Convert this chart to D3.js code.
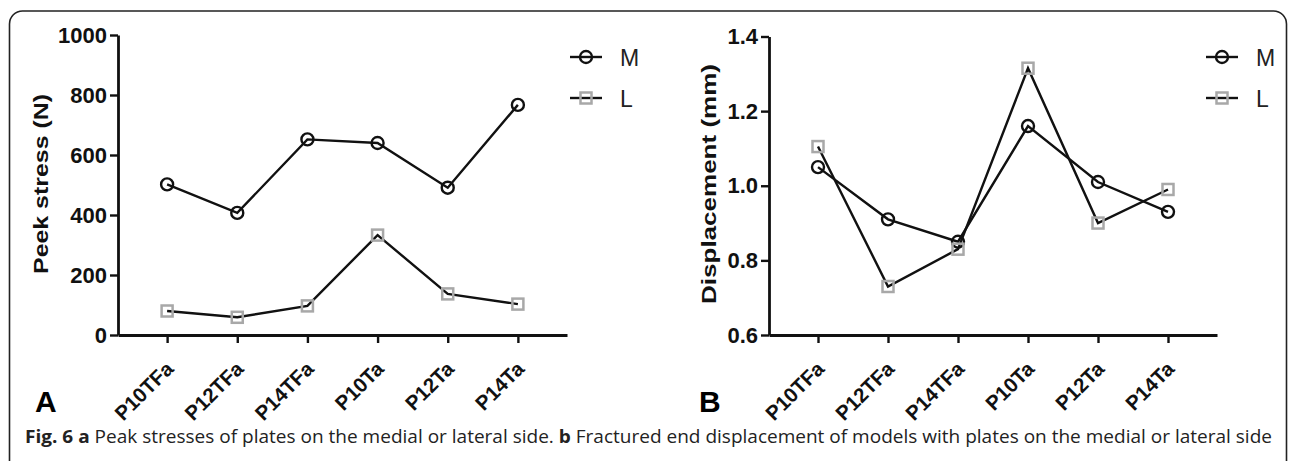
<!DOCTYPE html>
<html lang="en">
<head>
    <script src="https://d3js.org/d3.v7.min.js"></script>
    <style>
        body { margin: 0; background: white; }
        svg { display: block; }
        .axis path, .axis line { stroke: #111; }
    </style>
</head>
<body>
    <svg id="fig" width="1290" height="461"></svg>

    <script>
    // categories along the x axis (same for both panels)
    const categories = ["P10TFa", "P12TFa", "P14TFa", "P10Ta", "P12Ta", "P14Ta"];

    // panel A: peak stress (N)
    const stressM = [502, 407, 652, 640, 491, 767];
    const stressL = [80, 59, 97, 333, 137, 103];
    const stressTicks = [0, 200, 400, 600, 800, 1000];

    // panel B: displacement (mm)
    const dispM = [1.05, 0.91, 0.85, 1.16, 1.01, 0.93];
    const dispL = [1.105, 0.73, 0.83, 1.315, 0.90, 0.99];
    const dispTicks = [0.6, 0.8, 1.0, 1.2, 1.4];

    const seriesNames = ["M", "L"];
    const ARIAL = "'Liberation Sans', Arial, Helvetica, sans-serif";

    const svg = d3.select("#fig");

    // frame around the figure (bottom edge runs off the picture)
    svg.append("rect")
        .attr("x", 9.5).attr("y", 11)
        .attr("width", 1277).attr("height", 500)
        .attr("rx", 13).attr("ry", 13)
        .attr("fill", "none")
        .attr("stroke", "#222")
        .attr("stroke-width", 1.6);

    function drawMarker(g, name, x, y) {
        if (name === "M") {
            g.append("circle")
                .attr("cx", x).attr("cy", y).attr("r", 6)
                .attr("fill", "none")
                .attr("stroke", "#111")
                .attr("stroke-width", 2.4);
        } else {
            g.append("rect")
                .attr("x", x - 5.5).attr("y", y - 5.5)
                .attr("width", 11).attr("height", 11)
                .attr("fill", "none")
                .attr("stroke", "#a8a8a8")
                .attr("stroke-width", 2.5);
        }
    }

    function drawPanel(cfg) {
        const g = svg.append("g");

        const x = d3.scalePoint()
            .domain(categories)
            .range([cfg.left, cfg.right])
            .padding(0.7);
        const y = d3.scaleLinear()
            .domain(cfg.domain)
            .range([335, cfg.top]);

        // y axis
        const yAxis = g.append("g")
            .attr("class", "axis")
            .attr("transform", `translate(${cfg.left},0)`)
            .call(d3.axisLeft(y).tickValues(cfg.ticks).tickFormat(cfg.format).tickSize(8).tickPadding(3).tickSizeOuter(0))
            .attr("font-family", ARIAL)
            .attr("font-size", 22)
            .attr("font-weight", "bold");
        yAxis.select(".domain").attr("stroke-width", 2.8);
        yAxis.selectAll(".tick line").attr("stroke-width", 2.4);
        yAxis.selectAll(".tick text").attr("fill", "#111");

        // x axis
        const xAxis = g.append("g")
            .attr("class", "axis")
            .attr("transform", "translate(0,335)")
            .call(d3.axisBottom(x).tickSize(8).tickSizeOuter(0))
            .attr("font-family", ARIAL)
            .attr("font-size", 20.5)
            .attr("font-weight", "bold");
        xAxis.select(".domain").attr("stroke-width", 2.8);
        xAxis.selectAll(".tick line").attr("stroke-width", 2.4);
        xAxis.selectAll(".tick text")
            .attr("fill", "#111")
            .attr("text-anchor", "end")
            .attr("x", 0).attr("y", 0).attr("dy", "0.35em")
            .attr("transform", "translate(2,30) rotate(-45)");

        // axis title
        g.append("text")
            .attr("transform", `translate(${cfg.titleX},${cfg.titleY}) rotate(-90)`)
            .attr("text-anchor", "middle")
            .attr("textLength", cfg.titleLen)
            .attr("lengthAdjust", "spacingAndGlyphs")
            .attr("font-family", ARIAL)
            .attr("font-weight", "bold")
            .attr("font-size", 21)
            .attr("fill", "#111")
            .text(cfg.title);

        // panel letter
        g.append("text")
            .attr("x", cfg.letterX).attr("y", 412)
            .attr("font-family", ARIAL)
            .attr("font-weight", "bold")
            .attr("font-size", 30)
            .attr("fill", "#000")
            .text(cfg.letter);

        const line = d3.line()
            .x((d, i) => x(categories[i]))
            .y(d => y(d));

        [cfg.m, cfg.l].forEach(function(vals) {
            g.append("path")
                .datum(vals)
                .attr("d", line)
                .attr("fill", "none")
                .attr("stroke", "#111")
                .attr("stroke-width", 2.4);
        });
        [cfg.m, cfg.l].forEach(function(vals, k) {
            vals.forEach(function(v, i) {
                drawMarker(g, seriesNames[k], x(categories[i]), y(v));
            });
        });

        // legend
        seriesNames.forEach(function(name, k) {
            const ly = 57 + k * 41;
            g.append("line")
                .attr("x1", cfg.legendX - 16).attr("x2", cfg.legendX + 16)
                .attr("y1", ly).attr("y2", ly)
                .attr("stroke", "#111")
                .attr("stroke-width", 2.4);
            drawMarker(g, name, cfg.legendX, ly);
            g.append("text")
                .attr("x", cfg.legendX + 34).attr("y", ly + 8.5)
                .attr("font-family", ARIAL)
                .attr("font-size", 23)
                .attr("fill", "#222")
                .text(name);
        });
    }

    drawPanel({
        left: 118, right: 567, top: 35,
        domain: [0, 1000], ticks: stressTicks, format: d3.format("d"),
        m: stressM, l: stressL,
        title: "Peek stress (N)", titleX: 48, titleY: 184, titleLen: 180,
        letter: "A", letterX: 35,
        legendX: 586
    });

    drawPanel({
        left: 769, right: 1217, top: 36.5,
        domain: [0.6, 1.4], ticks: dispTicks, format: d3.format(".1f"),
        m: dispM, l: dispL,
        title: "Displacement (mm)", titleX: 716, titleY: 184, titleLen: 240,
        letter: "B", letterX: 699,
        legendX: 1222
    });

    // caption
    const caption = svg.append("text")
        .attr("x", 25).attr("y", 443)
        .attr("textLength", 1247)
        .attr("lengthAdjust", "spacingAndGlyphs")
        .attr("font-family", "'Open Sans', 'Noto Sans', sans-serif")
        .attr("font-size", 18.5)
        .attr("fill", "#222");
    caption.append("tspan").attr("font-weight", "bold").text("Fig. 6 a");
    caption.append("tspan").text(" Peak stresses of plates on the medial or lateral side. ");
    caption.append("tspan").attr("font-weight", "bold").text("b");
    caption.append("tspan").text(" Fractured end displacement of models with plates on the medial or lateral side");
    </script>
</body>
</html>
